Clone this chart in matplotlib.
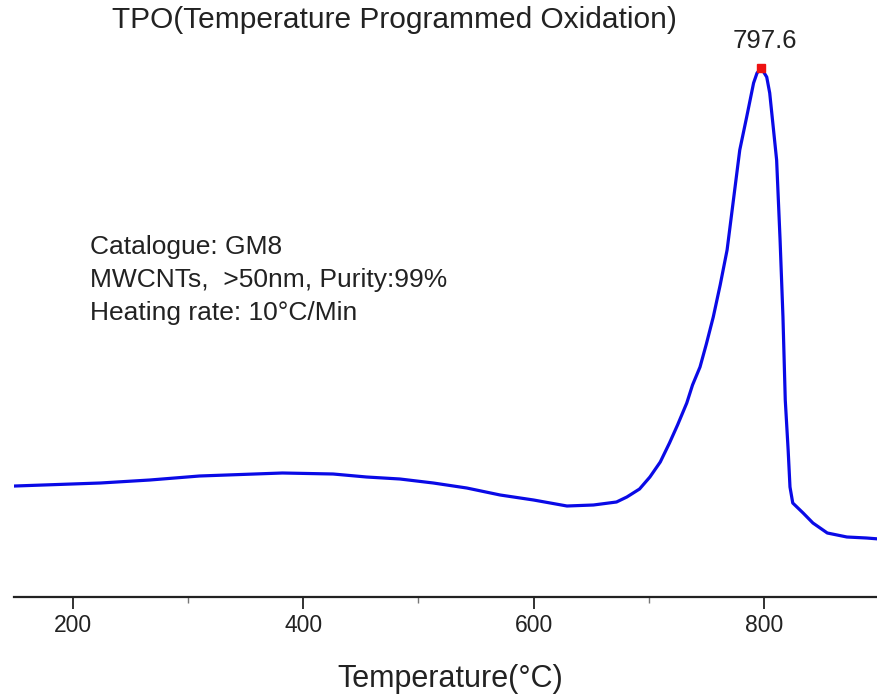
import matplotlib
matplotlib.use("Agg")
import matplotlib.pyplot as plt

plt.rcParams['font.family'] = ['Liberation Sans', 'DejaVu Sans']

# Temperature (°C) and TPO signal (arbitrary units)
temperature = [150, 224, 267, 310, 382, 426, 455, 484, 513, 542, 571, 600, 629, 652,
               672, 681, 692, 701, 710, 718, 725, 733, 738, 744.5, 750, 756, 762, 768,
               773.5, 779, 785, 791, 794, 797.6, 802.4,
               805, 811, 814, 816.5, 818.5, 821, 822.6, 825, 834, 842.5, 855, 872,
               889, 900]
signal = [111, 114, 117, 121, 124, 123, 120, 118, 114, 109, 102, 97, 91, 92,
          95, 100, 108, 120, 135, 154, 172, 194, 212, 230, 253, 280, 312, 347,
          397, 447, 480, 514, 524, 529, 520,
          504, 437, 357, 280, 197, 147, 110, 94, 84, 74, 64, 60,
          59, 58]

peak_x = 797.6
peak_y = 529
peak_label = "797.6"

title_text = "TPO(Temperature Programmed Oxidation)"
info_lines = ["Catalogue: GM8", "MWCNTs,  >50nm, Purity:99%", "Heating rate: 10°C/Min"]
x_ticks = [200, 400, 600, 800]
x_minor = [300, 500, 700]

fig = plt.figure(figsize=(8.78, 6.98), dpi=100)
ax = fig.add_axes([14/878, (698-597)/698, (878-14)/878, (597-40)/698])

ax.plot(temperature, signal, color='#0a0ae6', lw=2.3, solid_joinstyle='round')
ax.plot([peak_x], [peak_y], marker='s', color='#ee1111', ms=5.5, zorder=5)

ax.set_xlim(149, 899)
ax.set_ylim(0, 557)

for s in ['top', 'right', 'left']:
    ax.spines[s].set_visible(False)
ax.spines['bottom'].set_linewidth(1.6)
ax.spines['bottom'].set_color('#222222')
ax.set_yticks([])
ax.set_xticks(x_ticks)
ax.set_xticks(x_minor, minor=True)
ax.tick_params(axis='x', which='major', direction='out', length=8.5, width=1.3,
               labelsize=16.5, pad=4, colors='#222222')
ax.tick_params(axis='x', which='minor', direction='out', length=4.5, width=1.0, colors='#777777')

fig.text(450/878, 1 - 687/698, "Temperature(°C)", fontsize=22, ha='center', va='baseline',
         color='#222222')

fig.text(394/878, 1 - 20/698, title_text, fontsize=21.5, ha='center', va='center',
         color='#222222')
fig.text(764.5/878, 1 - 41/698, peak_label, fontsize=18.5, ha='center', va='center',
         color='#222222')

for i, line in enumerate(info_lines):
    fig.text(90/878, 1 - (247 + i*33)/698, line, fontsize=19, ha='left', va='center',
             color='#222222')

fig.savefig("out.png", dpi=100)
